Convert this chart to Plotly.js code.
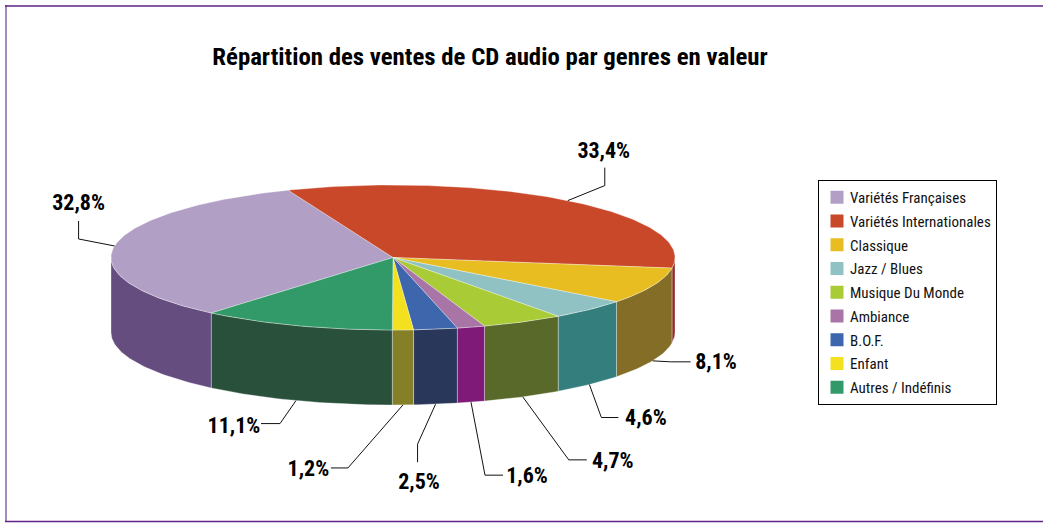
<!DOCTYPE html>
<html><head><meta charset="utf-8">
<script src="https://cdn.plot.ly/plotly-3.0.1.min.js"></script>
<style>html,body{margin:0;padding:0;background:#fff}#c{width:1043px;height:523px}</style>
</head><body><div id="c"></div>
<script>
var categories = ["Variétés Françaises","Variétés Internationales","Classique","Jazz / Blues","Musique Du Monde","Ambiance","B.O.F.","Enfant","Autres / Indéfinis"];
var shares = [32.8,33.4,8.1,4.6,4.7,1.6,2.5,1.2,11.1];
var topColors = ["#b19fc6","#c94829","#e7bd22","#90c2c4","#a9cb36","#a975a7","#3e66ac","#f3e01f","#329a68"];
var wallColors = ["#654d80","#8f3028","#846d26","#347f7e","#58692a","#7f1a79","#29375a","#858028","#28503a"];
// pie geometry, in the pixel-sized axis units
var cx = 393, cy = 257.5, rx = 282, ry = 72.5, depth = 75, startDeg = -139.9;
// leader bends (relative to where the leader leaves the slice) and text offsets
var bends = [[[-36,-7],[-36,-25]],[[37,-15],[37,-33]],[[18,1],[38,1]],[[12,33],[29,33]],[[46,63],[64,63]],[[14,73],[32,73]],[[-18,40],[-18,58]],[[-55,63],[-72,63]],[[-16,23],[-35,23]]];
var labelOffsets = [[-36,-41],[36,-48],[63.5,3],[56.5,35],[90,66],[56,75.5],[-16.5,79],[-94.5,65.5],[-62,26.5]];
var condensed = '"Roboto Condensed","Liberation Sans",sans-serif';

var total = shares.reduce(function(a,b){return a+b;},0);
function P(t,z){var r=t*Math.PI/180;return [cx+rx*Math.sin(r), cy-ry*Math.cos(r)+(z||0)];}
function arc(a,b,z){var n=Math.max(2,Math.ceil(Math.abs(b-a))),o=[];for(var i=0;i<=n;i++)o.push(P(a+(b-a)*i/n,z));return o;}
var traces=[], angle=startDeg, sections=[];
shares.forEach(function(v,i){var s=angle,e=angle+v/total*360;sections.push([s,e]);angle=e;});
var edge='rgba(255,255,255,0.55)';
// walls: front half only
sections.forEach(function(sec,i){
  [[90,270],[-270,-90]].forEach(function(win){
    var a=Math.max(sec[0],win[0]), b=Math.min(sec[1],win[1]);
    if(b<=a)return;
    var pts=arc(a,b,0).concat(arc(b,a,depth));pts.push(pts[0]);
    traces.push({type:'scatter',mode:'lines',x:pts.map(function(p){return p[0];}),y:pts.map(function(p){return p[1];}),fill:'toself',fillcolor:wallColors[i],line:{color:edge,width:0.6},showlegend:false,hoverinfo:'skip'});
  });
});
// tops
sections.forEach(function(sec,i){
  var pts=[[cx,cy]].concat(arc(sec[0],sec[1],0));pts.push([cx,cy]);
  traces.push({type:'scatter',mode:'lines',x:pts.map(function(p){return p[0];}),y:pts.map(function(p){return p[1];}),fill:'toself',fillcolor:topColors[i],line:{color:edge,width:0.6},showlegend:false,hoverinfo:'skip'});
});
// leaders and labels
var lx=[],ly=[],tx=[],ty=[],tt=[];
sections.forEach(function(sec,i){
  var mid=(sec[0]+sec[1])/2, c=Math.cos(mid*Math.PI/180);
  var p=P(mid,c<0?depth:0);
  lx.push(p[0]);ly.push(p[1]);
  bends[i].forEach(function(b){lx.push(p[0]+b[0]);ly.push(p[1]+b[1]);});
  lx.push(null);ly.push(null);
  tx.push(p[0]+labelOffsets[i][0]);ty.push(p[1]+labelOffsets[i][1]);
  tt.push(shares[i].toFixed(1).replace('.',',')+'%');
});
traces.push({type:'scatter',mode:'lines',x:lx,y:ly,line:{color:'#111',width:1},showlegend:false,hoverinfo:'skip',connectgaps:false});
traces.push({type:'scatter',mode:'text',x:tx,y:ty,text:tt,textposition:'middle center',textfont:{family:condensed,size:22,color:'#000',weight:700},showlegend:false,hoverinfo:'skip'});
// legend entries
categories.forEach(function(name,i){
  traces.push({type:'scatter',mode:'markers',x:[null],y:[null],name:name,legendgroup:'g'+i,marker:{symbol:'square',size:13,color:topColors[i]},hoverinfo:'skip'});
});
var frame='#5f2389';
var layout={
  width:1043,height:523,margin:{l:0,r:0,t:0,b:0},paper_bgcolor:'#fff',plot_bgcolor:'rgba(0,0,0,0)',
  title:{text:'<b>Répartition des ventes de CD audio par genres en valeur</b>',font:{family:condensed,size:24.8,color:'#000'},x:490/1043,xanchor:'center',y:1-56/523,yanchor:'middle'},
  xaxis:{range:[0,1043],visible:false,fixedrange:true},
  yaxis:{range:[523,0],visible:false,fixedrange:true},
  showlegend:true,
  legend:{x:818/1043,xanchor:'left',y:1-180/523,yanchor:'top',bgcolor:'#fff',bordercolor:'#000',borderwidth:1,indentation:-9,tracegroupgap:1.25,font:{family:condensed,size:15,color:'#111'},traceorder:'grouped',itemclick:false,itemdoubleclick:false},
  shapes:[
    {type:'line',x0:6,x1:6,y0:5,y1:522,line:{color:'#a58abb',width:2},layer:'below'},
    {type:'line',x0:5,x1:1043,y0:6,y1:6,line:{color:frame,width:1.5},layer:'below'},
    {type:'line',x0:5,x1:1043,y0:521.5,y1:521.5,line:{color:frame,width:1.5},layer:'below'}
  ]
};
Plotly.newPlot('c',traces,layout,{displayModeBar:false,staticPlot:true}).then(function(gd){
  // the swatches sit a little right of where the library's indentation leaves them
  gd.querySelectorAll('.legend .legendsymbols').forEach(function(g){g.setAttribute('transform','translate(7,0)');});
});
</script></body></html>
